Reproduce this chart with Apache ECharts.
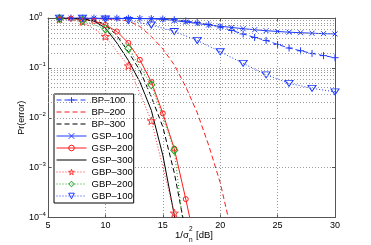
<!DOCTYPE html>
<html>
<head>
<meta charset="utf-8">
<script src="https://cdn.jsdelivr.net/npm/echarts@6/dist/echarts.min.js"></script>
<style>html,body{margin:0;padding:0;background:#fff}#c{width:371px;height:245px}</style>
</head>
<body>
<div id="c"></div>
<script>
// ---- data ----
const xFull = [6,7,8,9,10,11,12,13,14,15,16,17,18,19,20,21,22,23,24,25,26,27,28,29,30];
const bp100 = [0.998,0.998,0.995,0.995,0.993,0.991,0.986,0.98,0.97,0.955,0.923,0.871,0.813,0.741,0.661,0.562,0.479,0.407,0.355,0.295,0.25,0.22,0.195,0.176,0.16];
const gsp100 = [0.998,0.997,0.996,0.994,0.991,0.986,0.98,0.972,0.966,0.944,0.89,0.83,0.776,0.724,0.684,0.646,0.61,0.582,0.556,0.537,0.519,0.507,0.495,0.486,0.479];
const xBp200 = [6,7,8,9,10,11,12,13,14,15,16,17,18,19,20,21];
const bp200 = [0.995,0.993,0.989,0.977,0.959,0.923,0.871,0.676,0.427,0.24,0.115,0.0417,0.0126,0.0028,0.0005,0.00005];
const xBp300 = [6,7,8,9,10,11,12,13,14,15,16,17];
const bp300 = [0.993,0.986,0.966,0.912,0.741,0.447,0.209,0.0891,0.0263,0.0066,0.00079,0.00005];
const xGsp200 = [6,7,8,9,10,11,12,13,14,15,16,17,18];
const gsp200 = [0.989,0.973,0.933,0.871,0.724,0.537,0.316,0.145,0.0525,0.0123,0.0024,0.000234,0.00002];
const xGsp300 = [6,7,8,9,10,11,12,13,14,15,16,17];
const gsp300 = [0.993,0.982,0.955,0.871,0.631,0.316,0.141,0.0525,0.0141,0.00178,0.000112,0.000005];
const xGbp300 = [6,8,10,12,14,16,17];
const gbp300 = [0.955,0.851,0.427,0.11,0.0087,0.000123,0.000003];
const xGbp200 = [6,8,10,12,14,16,17];
const gbp200 = [0.977,0.891,0.603,0.245,0.0457,0.00224,0.000025];
const xGbp100 = [6,8,10,12,14,16,18,20,22,24,26,28,30];
const gbp100 = [0.993,0.989,0.955,0.891,0.724,0.537,0.355,0.211,0.123,0.0724,0.049,0.0389,0.0331];
const legendNames = ['BP–100','BP–200','BP–300','GSP–100','GSP–200','GSP–300','GBP–300','GBP–200','GBP–100'];
const xTicks = [5,10,15,20,25,30];
const decades = [1e-4,1e-3,1e-2,1e-1];
const minorMult = [2,3,4,5,6,7,8,9];

// ---- build ----
const minorVals = [];
decades.forEach(d => minorMult.forEach(m => minorVals.push(+(d*m).toPrecision(3))));

const PLUS = 'path://M5,0L5,10M0,5L10,5';
const CROSS = 'path://M0,0L10,10M10,0L0,10';
const STAR = 'path://M10,0L12.245,6.91L19.51,6.91L13.633,11.18L15.878,18.09L10,13.82L4.122,18.09L6.367,11.18L0.49,6.91L7.755,6.91Z';
const CLEAR = 'rgba(255,255,255,0)';

function pts(xs, ys, noMarkLast) {
  return xs.map((x, i) => {
    const it = {value: [x, ys[i]]};
    if (noMarkLast && i === xs.length - 1) it.symbol = 'none';
    return it;
  });
}
const legendItems = [];
function ser(name, xs, ys, color, dash, symbol, size, opts) {
  opts = opts || {};
  const hasMark = !!symbol;
  legendItems.push({
    name: name,
    itemStyle: {color: CLEAR, borderColor: hasMark ? color : CLEAR, borderWidth: hasMark ? 1 : 0},
    lineStyle: {color: color, width: 1, type: dash}
  });
  return Object.assign({
    name: name, type: 'line', data: pts(xs, ys, opts.noMarkLast),
    symbol: symbol || 'none', symbolSize: size || 6, showAllSymbol: true,
    symbolKeepAspect: true,
    lineStyle: {color: color, width: 1, type: dash},
    itemStyle: {color: CLEAR, borderColor: color, borderWidth: 1},
    emphasis: {disabled: true}, animation: false, clip: true, z: 3
  }, opts.extra || {});
}

const blue = '#1f3bff', red = '#ff1a1a', green = '#1aa31a', black = '#000';
const series = [
  ser(legendNames[0], xFull, bp100, blue, [5,3], PLUS, 7),
  ser(legendNames[1], xBp200, bp200, red, [5,3]),
  ser(legendNames[2], xBp300, bp300, black, [5,3]),
  ser(legendNames[3], xFull, gsp100, blue, 'solid', CROSS, 5),
  ser(legendNames[4], xGsp200, gsp200, red, 'solid', 'circle', 5),
  ser(legendNames[5], xGsp300, gsp300, black, 'solid'),
  ser(legendNames[6], xGbp300, gbp300, '#ff3030', [1,2], STAR, 8, {noMarkLast: true}),
  ser(legendNames[7], xGbp200, gbp200, green, [1,2], 'diamond', 8, {noMarkLast: true, extra: {symbolKeepAspect: false, symbolSize: [7,8]}}),
  ser(legendNames[8], xGbp100, gbp100, blue, [1,2], 'triangle', [8,6], {extra: {symbolRotate: 180, symbolKeepAspect: false}}),
  {
    name: 'minorgrid', type: 'line', data: [], silent: true, animation: false, z: 1,
    markLine: {
      silent: true, symbol: 'none', animation: false,
      label: {show: false},
      lineStyle: {color: '#9a9a9a', type: [1,2], width: 1},
      emphasis: {disabled: true},
      data: minorVals.map(v => ({yAxis: v}))
    }
  }
];

const expLabel = v => {
  const e = Math.round(Math.log10(v));
  return '{b|10}{e|' + String(e).replace('-', '−') + '}';
};
const axisCol = '#555';
const FONT = 'Liberation Sans, Arial, sans-serif';
const gridLine = {show: true, lineStyle: {color: '#9a9a9a', type: [1,2], width: 1}};

const chart = echarts.init(document.getElementById('c'), null, {renderer: 'canvas'});
chart.setOption({
  backgroundColor: '#fff',
  animation: false,
  grid: {left: 48, right: 36, top: 18, bottom: 27.5, containLabel: false},
  xAxis: [{
    type: 'value', min: 5, max: 30, interval: 5,
    axisLine: {show: true, onZero: false, lineStyle: {color: axisCol, width: 1}},
    axisTick: {show: true, inside: true, length: 3, lineStyle: {color: axisCol}},
    axisLabel: {color: '#000', fontSize: 9, margin: 4, fontFamily: FONT,
      formatter: v => xTicks.includes(v) ? String(v) : ''},
    splitLine: gridLine
  }, {
    type: 'value', min: 5, max: 30, interval: 5, position: 'top',
    axisLine: {show: true, onZero: false, lineStyle: {color: axisCol, width: 1}},
    axisTick: {show: true, inside: true, length: 3, lineStyle: {color: axisCol}},
    axisLabel: {show: false}, splitLine: {show: false}
  }],
  yAxis: [{
    type: 'log', logBase: 10, min: 1e-4, max: 1,
    axisLine: {show: true, onZero: false, lineStyle: {color: axisCol, width: 1}},
    axisTick: {show: true, inside: true, length: 3, lineStyle: {color: axisCol}},
    axisLabel: {color: '#000', align: 'left', margin: 19, formatter: expLabel, fontFamily: FONT,
      rich: {
        b: {fontSize: 9, fontFamily: FONT, color: '#000'},
        e: {fontSize: 6, fontFamily: FONT, color: '#000', padding: [0,0,7,0]}
      }},
    splitLine: gridLine,
    name: 'Pr(error)', nameLocation: 'middle', nameGap: 22, nameRotate: 90, nameMoveOverlap: false,
    nameTextStyle: {color: '#000', fontSize: 9, fontFamily: FONT}
  }, {
    type: 'log', logBase: 10, min: 1e-4, max: 1, position: 'right',
    axisLine: {show: true, onZero: false, lineStyle: {color: axisCol, width: 1}},
    axisTick: {show: true, inside: true, length: 3, lineStyle: {color: axisCol}},
    axisLabel: {show: false}, splitLine: {show: false}
  }],
  legend: {
    data: legendItems, orient: 'vertical', left: 54, top: 94,
    backgroundColor: '#fff', borderColor: '#000', borderWidth: 1, borderRadius: 0,
    padding: [0, 1, 1, 2], itemGap: 0, itemWidth: 30, itemHeight: 7,
    textStyle: {fontSize: 9.5, lineHeight: 12, color: '#000', fontFamily: FONT},
    selectedMode: false
  },
  graphic: [
    {type: 'text', left: 175, top: 230, style: {text: '1/σ', fontSize: 9.5, fill: '#000', fontFamily: FONT}},
    {type: 'text', left: 189, top: 237, style: {text: 'n', fontSize: 6.5, fill: '#000', fontFamily: FONT}},
    {type: 'text', left: 189, top: 226, style: {text: '2', fontSize: 6.5, fill: '#000', fontFamily: FONT}},
    {type: 'text', left: 196, top: 230, style: {text: '[dB]', fontSize: 9.5, fill: '#000', fontFamily: FONT}}
  ],
  series: series
});
</script>
</body>
</html>
